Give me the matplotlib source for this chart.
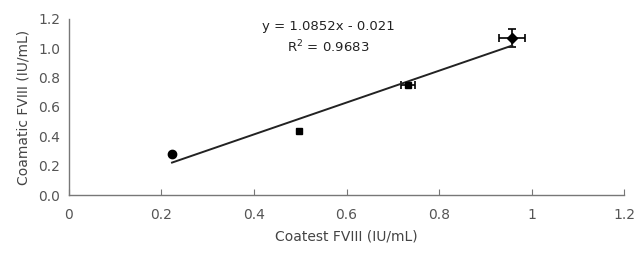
import numpy as np
import matplotlib.pyplot as plt

# Coatest vs Coamatic FVIII (IU/mL)
coatest = [0.223, 0.497, 0.733, 0.958]
coamatic = [0.28, 0.436, 0.75, 1.07]
x_err = [0.0, 0.0, 0.015, 0.028]
y_err = [0.0, 0.0, 0.0, 0.06]
markers = ['o', 's', 's', 'D']

slope = 1.0852
intercept = -0.021
r2 = 0.9683

xticks = [0, 0.2, 0.4, 0.6, 0.8, 1.0, 1.2]
xtick_labels = ['0', '0.2', '0.4', '0.6', '0.8', '1', '1.2']
yticks = [0.0, 0.2, 0.4, 0.6, 0.8, 1.0, 1.2]
ytick_labels = ['0.0', '0.2', '0.4', '0.6', '0.8', '1.0', '1.2']

fig = plt.figure(figsize=(6.37, 2.59), dpi=100)
ax = fig.add_axes([0.108, 0.247, 0.872, 0.68])

for x, y, xe, ye, m in zip(coatest, coamatic, x_err, y_err, markers):
    ax.errorbar(x, y, xerr=xe if xe else None, yerr=ye if ye else None,
                fmt=m, color='black', ms=6 if m == 'o' else 5,
                capsize=3, elinewidth=1.2, capthick=1.2)

xl = np.array([min(coatest), max(coatest)])
ax.plot(xl, slope * xl + intercept, color='#222222', lw=1.4)

ax.text(0.56, 1.145, 'y = %.4fx - %.3f' % (slope, -intercept),
        ha='center', va='center', fontsize=9.5, color='#222222')
ax.text(0.56, 1.01, 'R$^2$ = %.4f' % r2,
        ha='center', va='center', fontsize=9.5, color='#222222')

ax.set_xlim(0, 1.2)
ax.set_ylim(0, 1.2)
ax.set_xticks(xticks)
ax.set_xticklabels(xtick_labels)
ax.set_yticks(yticks)
ax.set_yticklabels(ytick_labels)

for s in ['top', 'right']:
    ax.spines[s].set_visible(False)
for s in ['left', 'bottom']:
    ax.spines[s].set_color('#777777')
    ax.spines[s].set_linewidth(1.0)
ax.tick_params(axis='x', direction='in', length=4, color='#777777',
               labelsize=10, labelcolor='#555555', pad=9)
ax.tick_params(axis='y', length=0, labelsize=10, labelcolor='#555555', pad=6)

ax.set_xlabel('Coatest FVIII (IU/mL)', fontsize=10, color='#444444', labelpad=6)
ax.set_ylabel('Coamatic FVIII (IU/mL)', fontsize=10, color='#444444', labelpad=6)

fig.savefig('out.png', dpi=100)
